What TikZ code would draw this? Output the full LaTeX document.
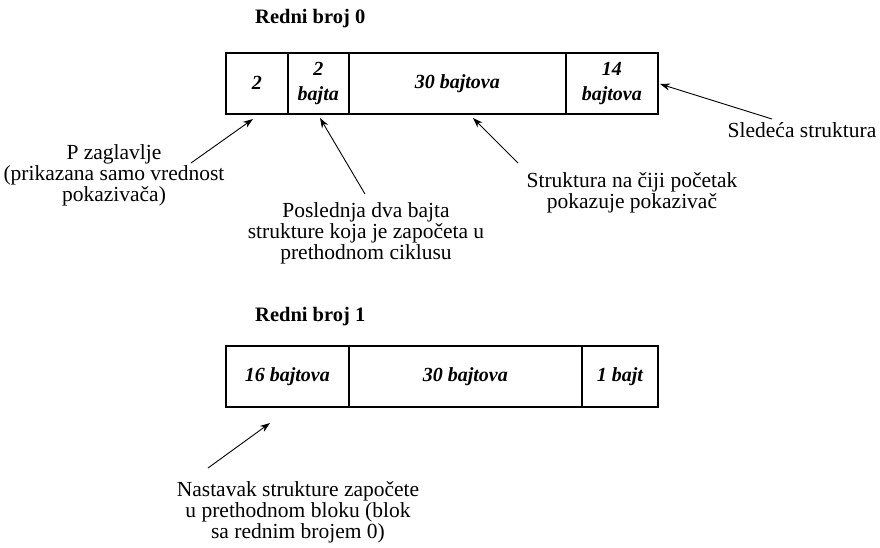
\documentclass[tikz,border=0pt]{standalone}
\usepackage{fontspec}
\setmainfont{Liberation Serif}
\usetikzlibrary{arrows.meta}
\begin{document}
\begin{tikzpicture}[x=1pt,y=-1pt,
  cell/.style={draw, line width=1.6pt, inner sep=0pt, anchor=north west,
    minimum height=61pt, align=center,
    font=\fontsize{20}{25}\selectfont\bfseries\itshape},
  title/.style={anchor=west, inner sep=0pt, font=\fontsize{20.5}{22}\selectfont\bfseries},
  note/.style={align=center, inner sep=0pt, font=\fontsize{21.5}{21}\selectfont},
  pointer/.style={line width=0.9pt, -{Stealth[length=10pt,width=7pt]}}
]
\useasboundingbox (0,0) rectangle (880,547);

% block 0
\node[title] (title0) at (255,19) {Redni broj 0};
\node[cell, minimum width=62pt] (a0) at (225,52) {2};
\node[cell, minimum width=61pt] (a1) at (287,52) {2\\bajta};
\node[cell, minimum width=217pt] (a2) at (348,52) {30 bajtova};
\node[cell, minimum width=92pt] (a3) at (565,52) {14\\bajtova};

% block 1
\node[title] (title1) at (255,317) {Redni broj 1};
\node[cell, minimum width=123pt] (b0) at (225,345) {16 bajtova};
\node[cell, minimum width=233pt] (b1) at (348,345) {30 bajtova};
\node[cell, minimum width=76pt] (b2) at (581,345) {1 bajt};

% annotations
\node[note] (n0) at (114,175) {P zaglavlje\\(prikazana samo vrednost\\pokaziva\v{c}a)};
\node[note] (n1) at (366,233) {Poslednja dva bajta\\strukture koja je zapo\v{c}eta u\\prethodnom ciklusu};
\node[note] (n2) at (632,193) {Struktura na \v{c}iji po\v{c}etak\\pokazuje pokaziva\v{c}};
\node[note] (n3) at (802,130) {Slede\'{c}a struktura};
\node[note] (n4) at (298,512) {Nastavak strukture zapo\v{c}ete\\u prethodnom bloku (blok\\sa rednim brojem 0)};

% arrow ends
\coordinate (p0) at (191,163);  \coordinate (q0) at (253,119);
\coordinate (p1) at (365,194);  \coordinate (q1) at (320,118);
\coordinate (p2) at (518,163);  \coordinate (q2) at (473,118);
\coordinate (p3) at (772,119);  \coordinate (q3) at (660,84);
\coordinate (p4) at (208,468);  \coordinate (q4) at (270,423);

\draw[pointer] (p0) -- (q0);
\draw[pointer] (p1) -- (q1);
\draw[pointer] (p2) -- (q2);
\draw[pointer] (p3) -- (q3);
\draw[pointer] (p4) -- (q4);
\end{tikzpicture}
\end{document}
